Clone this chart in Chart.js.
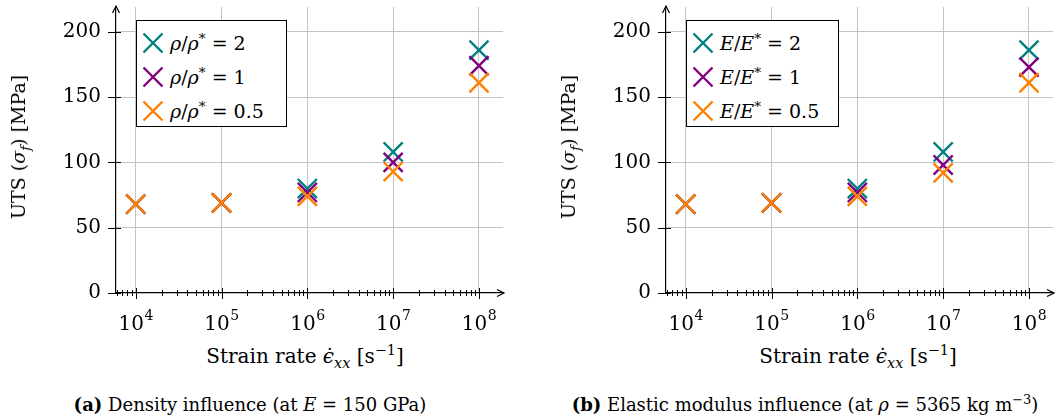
<!DOCTYPE html>
<html lang="en">
<head>
<meta charset="UTF-8"/>
<title>UTS vs strain rate</title>
<script src="https://cdn.jsdelivr.net/npm/chart.js@4.4.7/dist/chart.umd.min.js"></script>
<style>
*{box-sizing:border-box;margin:0;padding:0}
body{width:1055px;height:420px;background:#fff;position:relative;overflow:hidden;font-family:'DejaVu Serif',serif;color:#000}
.panel{position:absolute;top:0;height:340px}
.ytitle{position:absolute;transform:translate(-50%,-50%) rotate(-90deg);white-space:nowrap;font-size:19px}
.xtitle{position:absolute;transform:translate(-50%,-50%);white-space:nowrap;font-size:20px}
.caption{position:absolute;transform:translate(-50%,-50%);white-space:nowrap;font-size:18px}
sub,sup{font-size:72%;line-height:0}
.legend{position:absolute;top:20px;height:107px;border:1px solid #000;background:#fff;padding-top:5px}
.legend .row{height:34px;display:flex;align-items:center;padding-left:5px;font-size:19px;white-space:nowrap}
.legend svg{margin-right:6px}
</style>
</head>
<body>
<div class="panel" style="left:0;width:527px"><canvas id="chartA" width="527" height="340"></canvas></div>
<div class="panel" style="left:528px;width:527px"><canvas id="chartB" width="527" height="340"></canvas></div>

<div class="legend" id="legendA" style="left:136px;width:151px"></div>
<div class="legend" id="legendB" style="left:686px;width:153px"></div>

<div class="ytitle" style="left:18px;top:147px">UTS (<i>σ</i><sub><i>f</i></sub>) [MPa]</div>
<div class="ytitle" style="left:568px;top:147px">UTS (<i>σ</i><sub><i>f</i></sub>) [MPa]</div>
<div class="xtitle" style="left:305px;top:356px">Strain rate <i>ϵ̇</i><sub><i>xx</i></sub> [s<sup>−1</sup>]</div>
<div class="xtitle" style="left:858px;top:356px">Strain rate <i>ϵ̇</i><sub><i>xx</i></sub> [s<sup>−1</sup>]</div>
<div class="caption" style="left:250px;top:404px"><b>(a)</b> Density influence (at <i>E</i> = 150 GPa)</div>
<div class="caption" style="left:805px;top:404px"><b>(b)</b> Elastic modulus influence (at <i>ρ</i> = 5365 kg m<sup>−3</sup>)</div>

<script>
// strain rates [1/s]
const strainRates = [1e4, 1e5, 1e6, 1e7, 1e8];

// ratio of the varied property to the reference value
const ratios = [2, 1, 0.5];
const colors = ['#008080', '#800080', '#ff8000'];

// (a) density influence, UTS in MPa
const utsRho2  = [68, 69, 80, 108, 186];
const utsRho1  = [68, 69, 77, 100, 174];
const utsRho05 = [68, 69, 74, 93, 161];

// (b) elastic modulus influence, UTS in MPa
const utsE2  = [68, 69, 80, 108, 186];
const utsE1  = [68, 69, 77, 98, 173];
const utsE05 = [68, 69, 74, 92, 161];

const yTicks = [0, 50, 100, 150, 200];
const xMin = Math.pow(10, 3.77), xMax = Math.pow(10, 8.28);
const yMin = 0, yMax = 219;

const FONT = "'DejaVu Serif', serif";
const GRID = '#c4c4c4';

const isDecade = v => Math.abs(Math.log10(v) - Math.round(Math.log10(v))) < 1e-9;

// minor + major tick positions of the log axis
function logTicks(min, max) {
  const out = [];
  for (let e = Math.floor(Math.log10(min)); e <= Math.ceil(Math.log10(max)); e++) {
    for (let k = 1; k <= 9; k++) {
      const v = k * Math.pow(10, e);
      if (v >= min && v <= max) out.push({ value: v });
    }
  }
  return out;
}

// arrows, tick marks through the axes, tick labels (10^n on x)
const axisDecor = {
  id: 'axisDecor',
  afterDraw(chart) {
    const { ctx, chartArea: a, scales: { x, y } } = chart;
    ctx.save();
    ctx.strokeStyle = '#000';
    ctx.fillStyle = '#000';
    ctx.lineWidth = 1;
    ctx.beginPath();
    x.ticks.forEach(t => {
      const px = Math.round(x.getPixelForValue(t.value)) + 0.5;
      const major = isDecade(t.value);
      ctx.moveTo(px, a.bottom - (major ? 5 : 3)); ctx.lineTo(px, a.bottom + (major ? 6 : 3));
    });
    y.ticks.forEach(t => {
      const py = Math.round(y.getPixelForValue(t.value)) + 0.5;
      ctx.moveTo(a.left - 8, py); ctx.lineTo(a.left + 5, py);
    });
    ctx.stroke();

    // arrow heads
    ctx.lineWidth = 1.2;
    ctx.beginPath();
    ctx.moveTo(a.right - 6, a.bottom - 3.5); ctx.lineTo(a.right + 1, a.bottom); ctx.lineTo(a.right - 6, a.bottom + 3.5);
    ctx.moveTo(a.left - 3.5, a.top + 6); ctx.lineTo(a.left, a.top - 1); ctx.lineTo(a.left + 3.5, a.top + 6);
    ctx.stroke();

    // y labels
    ctx.font = '20px ' + FONT;
    ctx.textAlign = 'right';
    ctx.textBaseline = 'middle';
    y.ticks.forEach(t => ctx.fillText(String(t.value), a.left - 15, y.getPixelForValue(t.value)));

    // decade labels
    ctx.textBaseline = 'alphabetic';
    ctx.textAlign = 'left';
    x.ticks.filter(t => isDecade(t.value)).forEach(t => {
      const px = x.getPixelForValue(t.value);
      const exp = String(Math.round(Math.log10(t.value)));
      ctx.font = '20px ' + FONT;
      const wb = ctx.measureText('10').width;
      ctx.font = '14px ' + FONT;
      const we = ctx.measureText(exp).width;
      const x0 = px - (wb + we) / 2;
      ctx.font = '20px ' + FONT;
      ctx.fillText('10', x0, a.bottom + 37);
      ctx.font = '14px ' + FONT;
      ctx.fillText(exp, x0 + wb + 0.5, a.bottom + 27);
    });
    ctx.restore();
  }
};

function makeChart(id, yWidth, padRight, series) {
  return new Chart(document.getElementById(id), {
    type: 'scatter',
    data: {
      datasets: series.map((vals, i) => ({
        data: strainRates.map((r, j) => ({ x: r, y: vals[j] })),
        order: series.length - 1 - i,
        pointStyle: 'crossRot',
        pointRadius: 13.5,
        pointHoverRadius: 13.5,
        borderColor: colors[i],
        backgroundColor: colors[i],
        pointBorderWidth: 2.4,
        showLine: false
      }))
    },
    options: {
      responsive: false,
      animation: false,
      events: [],
      layout: { autoPadding: false, padding: { top: 7, right: padRight, left: 0, bottom: 0 } },
      plugins: { legend: { display: false }, tooltip: { enabled: false } },
      scales: {
        x: {
          type: 'logarithmic',
          min: xMin, max: xMax,
          afterBuildTicks: s => { s.ticks = logTicks(xMin, xMax); },
          afterFit: s => { s.height = 47; },
          ticks: { display: false },
          grid: {
            drawTicks: false,
            color: c => (c.tick && isDecade(c.tick.value)) ? GRID : 'rgba(0,0,0,0)',
            lineWidth: 1
          },
          border: { color: '#000', width: 1.2 }
        },
        y: {
          min: yMin, max: yMax,
          afterBuildTicks: s => { s.ticks = yTicks.map(v => ({ value: v })); },
          afterFit: s => { s.width = yWidth; },
          ticks: { display: false },
          grid: {
            drawTicks: false,
            color: c => (c.tick && c.tick.value !== 0) ? GRID : 'rgba(0,0,0,0)',
            lineWidth: 1
          },
          border: { color: '#000', width: 1.2 }
        }
      }
    },
    plugins: [axisDecor]
  });
}

function crossSvg(color) {
  return `<svg width="22" height="22" viewBox="0 0 22 22"><path d="M1.5 1.5L20.5 20.5M20.5 1.5L1.5 20.5" stroke="${color}" stroke-width="2.4"/></svg>`;
}

function fillLegend(id, sym) {
  document.getElementById(id).innerHTML = ratios.map((r, i) =>
    `<div class="row">${crossSvg(colors[i])}<span><i>${sym}</i>/<i>${sym}</i><sup>*</sup> = ${r}</span></div>`
  ).join('');
}

makeChart('chartA', 116, 24, [utsRho2, utsRho1, utsRho05]);
makeChart('chartB', 138, 2, [utsE2, utsE1, utsE05]);
fillLegend('legendA', 'ρ');
fillLegend('legendB', 'E');
</script>
</body>
</html>
